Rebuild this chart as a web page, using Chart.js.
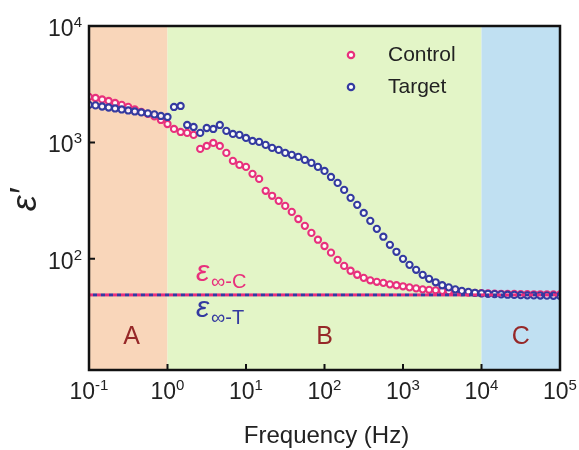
<!DOCTYPE html>
<html>
<head>
<meta charset="utf-8">
<script src="https://cdn.jsdelivr.net/npm/chart.js@4.4.1/dist/chart.umd.min.js"></script>
<style>
  html, body { margin: 0; padding: 0; background: #fff; }
  #wrap { width: 579px; height: 450px; }
</style>
</head>
<body>
<div id="wrap"><canvas id="epsChart" width="579" height="450"></canvas></div>
<script>
// Frequency sweep, 12 points per decade (Hz)
const freqHz = [0.1, 0.121, 0.147, 0.178, 0.215, 0.261, 0.316, 0.383, 0.464, 0.562, 0.681, 0.825,
  1, 1.21, 1.47, 1.78, 2.15, 2.61, 3.16, 3.83, 4.64, 5.62, 6.81, 8.25,
  10, 12.1, 14.7, 17.8, 21.5, 26.1, 31.6, 38.3, 46.4, 56.2, 68.1, 82.5,
  100, 121, 147, 178, 215, 261, 316, 383, 464, 562, 681, 825,
  1000, 1210, 1470, 1780, 2150, 2610, 3160, 3830, 4640, 5620, 6810, 8250,
  10000, 12100, 14700, 17800, 21500, 26100, 31600, 38300, 46400, 56200, 68100, 82500,
  100000];

// real permittivity, Control sample
const controlEps = [2460, 2410, 2340, 2270, 2180, 2100, 2020, 1920, 1830, 1758, 1672, 1560,
  1440, 1306, 1230, 1207, 1160, 880, 933, 990, 933, 813, 694, 641,
  616, 537, 486, 384, 348, 315, 285, 253, 220, 192, 167, 146,
  129, 113, 98, 87, 79, 73, 68.7, 65.4, 63.5, 62.2, 60.4, 59.3,
  58.1, 56.9, 55.8, 54.7, 54.2, 53.7, 53.1, 52.6, 52.1, 51.7, 51.3, 51.0,
  50.7, 50.5, 50.3, 50.1, 50.0, 49.9, 49.8, 49.7, 49.6, 49.6, 49.5, 49.5,
  49.4];

// real permittivity, Target sample
const targetEps = [2100, 2080, 2036, 1995, 1958, 1919, 1882, 1845, 1810, 1775, 1740, 1688,
  1655, 2017, 2057, 1413, 1358, 1207, 1330, 1305, 1413, 1256, 1183, 1160,
  1093, 1030, 1010, 952, 897, 863, 813, 782, 751, 708, 667, 616,
  569, 505, 449, 391, 334, 291, 248, 212, 181, 155, 132, 115,
  100, 88.8, 80.5, 72.9, 67.3, 62.9, 59.3, 56.9, 54.7, 53.1, 52.1, 51.1,
  50.6, 50.1, 49.8, 49.5, 49.2, 49.0, 48.8, 48.6, 48.5, 48.4, 48.3, 48.2,
  48.1];

// high-frequency limit
const epsInfinity = 49;

// frequency regions A / B / C
const regionNames = ['A', 'B', 'C'];
const regionEdges = [0.1, 1, 10000, 100000];

const xTicks = [0.1, 1, 10, 100, 1000, 10000, 100000];
const yTicks = [100, 1000, 10000];

const pink = 'rgb(232, 48, 124)';
const blue = 'rgb(52, 58, 160)';
const regionColors = ['rgb(249, 214, 186)', 'rgb(227, 245, 199)', 'rgb(192, 224, 242)'];
const regionTextColor = 'rgb(150, 40, 40)';
const FONT = '"Liberation Sans", Arial, sans-serif';

const toPts = (ys) => freqHz.map((f, i) => ({ x: f, y: ys[i] }));
const flatLine = [{ x: regionEdges[0], y: epsInfinity }, { x: regionEdges[3], y: epsInfinity }];

function drawPower(ctx, exp, x, y, align) {
  // "10" with a raised exponent
  const baseFont = '23px ' + FONT, expFont = '15px ' + FONT;
  const e = String(exp);
  ctx.font = baseFont;
  const wb = ctx.measureText('10').width;
  ctx.font = expFont;
  const we = ctx.measureText(e).width;
  let left = align === 'right' ? x - wb - we : x - (wb + we) / 2;
  ctx.textAlign = 'left';
  ctx.textBaseline = 'alphabetic';
  ctx.font = baseFont;
  ctx.fillText('10', left, y);
  ctx.font = expFont;
  ctx.fillText(e, left + wb, y - 9);
}

const decoPlugin = {
  id: 'deco',
  beforeDatasetsDraw(chart) {
    const { ctx, chartArea: a, scales: { x } } = chart;
    ctx.save();
    for (let i = 0; i < regionColors.length; i++) {
      const x0 = x.getPixelForValue(regionEdges[i]);
      const x1 = x.getPixelForValue(regionEdges[i + 1]);
      ctx.fillStyle = regionColors[i];
      ctx.fillRect(x0, a.top, x1 - x0, a.bottom - a.top);
    }
    // region letters
    ctx.fillStyle = regionTextColor;
    ctx.font = '25px ' + FONT;
    ctx.textAlign = 'center';
    ctx.textBaseline = 'alphabetic';
    const at = [0.35, 100, 31600];
    regionNames.forEach((n, i) => ctx.fillText(n, x.getPixelForValue(at[i]), 344));
    ctx.restore();
  },
  afterDatasetsDraw(chart) {
    const { ctx, chartArea: a, scales: { x, y } } = chart;
    ctx.save();
    // frame
    ctx.strokeStyle = '#111';
    ctx.lineWidth = 2.5;
    ctx.strokeRect(a.left, a.top, a.right - a.left, a.bottom - a.top);
    // inward ticks
    ctx.lineWidth = 2;
    ctx.beginPath();
    xTicks.forEach(v => {
      const px = x.getPixelForValue(v);
      ctx.moveTo(px, a.bottom);
      ctx.lineTo(px, a.bottom - 6);
    });
    yTicks.forEach(v => {
      const py = y.getPixelForValue(v);
      ctx.moveTo(a.left, py);
      ctx.lineTo(a.left + 6, py);
    });
    ctx.stroke();
    // tick labels
    ctx.fillStyle = '#222';
    xTicks.forEach(v => {
      const e = Math.round(Math.log10(v));
      drawPower(ctx, e, x.getPixelForValue(v), 399, 'center');
    });
    yTicks.forEach(v => {
      const e = Math.round(Math.log10(v));
      drawPower(ctx, e, 82, y.getPixelForValue(v) + 10, 'right');
    });
    // axis titles
    ctx.font = '24px ' + FONT;
    ctx.textAlign = 'center';
    ctx.fillText('Frequency (Hz)', (a.left + a.right) / 2 + 2, 443);
    ctx.save();
    ctx.translate(36, 200);
    ctx.rotate(-Math.PI / 2);
    ctx.font = 'italic 36px ' + FONT;
    ctx.fillText('\u03B5\u2032', 0, 0);
    ctx.restore();
    // legend
    const items = [['Control', pink, 55], ['Target', blue, 87]];
    items.forEach(([txt, col, ly]) => {
      ctx.beginPath();
      ctx.arc(351, ly, 3.2, 0, Math.PI * 2);
      ctx.fillStyle = '#fff';
      ctx.fill();
      ctx.strokeStyle = col;
      ctx.lineWidth = 2.2;
      ctx.stroke();
      ctx.fillStyle = '#222';
      ctx.font = '21px ' + FONT;
      ctx.textAlign = 'left';
      ctx.textBaseline = 'middle';
      ctx.fillText(txt, 388, ly);
    });
    // eps-infinity labels
    const lineY = y.getPixelForValue(epsInfinity);
    ctx.textBaseline = 'alphabetic';
    [['\u221E-C', pink, lineY - 14], ['\u221E-T', blue, lineY + 22]].forEach(([sub, col, by]) => {
      ctx.fillStyle = col;
      ctx.font = 'italic 30px ' + FONT;
      ctx.fillText('\u03B5', 196, by);
      ctx.font = '20px ' + FONT;
      ctx.fillText(sub, 211, by + 7);
    });
    ctx.restore();
  }
};

const pointStyle = (col) => ({
  showLine: false,
  pointRadius: 3.1,
  pointBorderWidth: 2.1,
  pointBorderColor: col,
  pointBackgroundColor: 'rgba(255,255,255,0.85)',
  borderColor: col,
  backgroundColor: col
});

new Chart(document.getElementById('epsChart'), {
  type: 'scatter',
  data: {
    datasets: [
      { label: 'eps-inf C', data: flatLine, showLine: true, pointRadius: 0, borderColor: pink, borderWidth: 3, borderDash: [4, 4] },
      { label: 'eps-inf T', data: flatLine, showLine: true, pointRadius: 0, borderColor: blue, borderWidth: 3, borderDash: [4, 4], borderDashOffset: 4 },
      Object.assign({ label: 'Target', data: toPts(targetEps) }, pointStyle(blue)),
      Object.assign({ label: 'Control', data: toPts(controlEps) }, pointStyle(pink))
    ]
  },
  options: {
    responsive: false,
    animation: false,
    devicePixelRatio: 1,
    layout: { padding: { left: 89, right: 19, top: 26, bottom: 80 } },
    plugins: { legend: { display: false }, tooltip: { enabled: false } },
    scales: {
      x: { type: 'logarithmic', display: false, min: 0.1, max: 100000 },
      y: { type: 'logarithmic', display: false, min: 11.1, max: 10000 }
    }
  },
  plugins: [decoPlugin]
});
</script>
</body>
</html>
